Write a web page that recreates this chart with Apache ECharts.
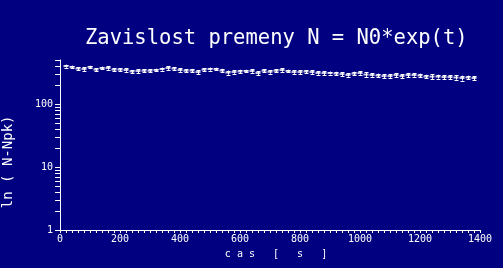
<!DOCTYPE html>
<html><head><meta charset="utf-8">
<script src="https://cdn.jsdelivr.net/npm/echarts@6/dist/echarts.min.js"></script>
<style>html,body{margin:0;padding:0;background:#000080;}#c{width:503px;height:268px;}</style>
</head><body><div id="c"></div>
<script>
const titleText = 'Zavislost premeny N = N0*exp(t)';
const xName = '  c a s   [   s   ]';
const yName = 'ln ( N-Npk)    ';
const times = [20,40,60,80,100,120,140,160,180,200,220,240,260,280,300,320,340,360,380,400,420,440,460,480,500,520,540,560,580,600,620,640,660,680,700,720,740,760,780,800,820,840,860,880,900,920,940,960,980,1000,1020,1040,1060,1080,1100,1120,1140,1160,1180,1200,1220,1240,1260,1280,1300,1320,1340,1360,1380];
const values = [400,388,366,360,388,352,373,373,352,352,347,329,334,338,338,347,359,373,366,347,338,340,322,352,359,359,340,316,322,329,334,334,311,338,325,338,347,334,322,322,329,322,311,311,311,305,299,289,305,311,294,289,284,278,278,289,278,289,289,284,273,273,273,268,268,264,259,264,259];
const errors = [22,18,20,24,16,21,19,23,17,20,22,18,25,19,21,17,20,24,18,22,19,21,23,17,20,18,22,24,19,21,16,20,23,18,21,19,22,17,20,24,18,21,19,23,17,20,22,18,21,19,24,17,20,22,18,21,19,23,17,20,18,22,19,21,17,20,23,18,19];
const yMajorLabels = [1, 10, 100];
const yMinorTicks = [2,3,4,5,6,7,8,9,20,30,40,50,60,70,80,90,200,300,400];

const FONT = 'DejaVu Sans Mono';
const WHITE = '#ffffff';
const chart = echarts.init(document.getElementById('c'), null, {renderer: 'canvas'});
chart.setOption({
  backgroundColor: '#000080',
  animation: false,
  title: {
    text: titleText, left: 80, top: 23,
    textStyle: {color: WHITE, fontFamily: FONT, fontSize: 20.5, fontWeight: 'normal'}
  },
  grid: {left: 60, right: 23, top: 60, bottom: 38, containLabel: false, outerBoundsMode: 'none'},
  xAxis: {
    type: 'value', min: 0, max: 1400, interval: 200,
    name: xName, nameLocation: 'middle', nameGap: 19,
    nameTextStyle: {color: WHITE, fontFamily: FONT, fontSize: 10},
    axisLine: {show: true, lineStyle: {color: WHITE, width: 1}},
    axisTick: {show: true, length: 3, lineStyle: {color: WHITE}},
    minorTick: {show: true, splitNumber: 10, length: 3, lineStyle: {color: WHITE}},
    axisLabel: {color: WHITE, fontFamily: FONT, fontSize: 10, margin: 4, formatter: v => String(v)},
    splitLine: {show: false}
  },
  yAxis: {
    type: 'log', logBase: 10, min: 1, max: 500,
    name: yName, nameLocation: 'middle', nameRotate: 90, nameGap: 45,
    nameTextStyle: {color: WHITE, fontFamily: FONT, fontSize: 14},
    axisLine: {show: true, lineStyle: {color: WHITE, width: 1}},
    axisTick: {show: true, length: 5, lineStyle: {color: WHITE}},
    axisLabel: {color: WHITE, fontFamily: FONT, fontSize: 10, margin: 7,
      formatter: v => yMajorLabels.some(m => Math.abs(m - v) < 1e-6) ? String(Math.round(v)) : ''},
    splitLine: {show: false}
  },
  series: [
    {
      type: 'custom', silent: true, clip: false,
      data: yMinorTicks.map(v => [0, v]),
      renderItem: (params, api) => {
        const p = api.coord([api.value(0), api.value(1)]);
        const y = Math.round(p[1]) + 0.5;
        return {type: 'line', shape: {x1: p[0] - 5, y1: y, x2: p[0], y2: y},
          style: {stroke: WHITE, lineWidth: 1}};
      }
    },
    {
      type: 'custom', silent: true,
      data: times.map((t, i) => [t, values[i] - errors[i], values[i] + errors[i]]),
      renderItem: (params, api) => {
        const lo = api.coord([api.value(0), api.value(1)]);
        const hi = api.coord([api.value(0), api.value(2)]);
        const x = Math.round(lo[0]) + 0.5;
        const s = {stroke: WHITE, lineWidth: 1};
        return {type: 'group', children: [
          {type: 'line', shape: {x1: x, y1: lo[1], x2: x, y2: hi[1]}, style: s},
          {type: 'line', shape: {x1: x - 2, y1: Math.round(lo[1]) + 0.5, x2: x + 2, y2: Math.round(lo[1]) + 0.5}, style: s},
          {type: 'line', shape: {x1: x - 2, y1: Math.round(hi[1]) + 0.5, x2: x + 2, y2: Math.round(hi[1]) + 0.5}, style: s}
        ]};
      }
    },
    {
      type: 'scatter', silent: true,
      symbol: 'rect', symbolSize: [5, 2],
      itemStyle: {color: WHITE},
      data: times.map((t, i) => [t, values[i]])
    }
  ]
});
</script></body></html>
